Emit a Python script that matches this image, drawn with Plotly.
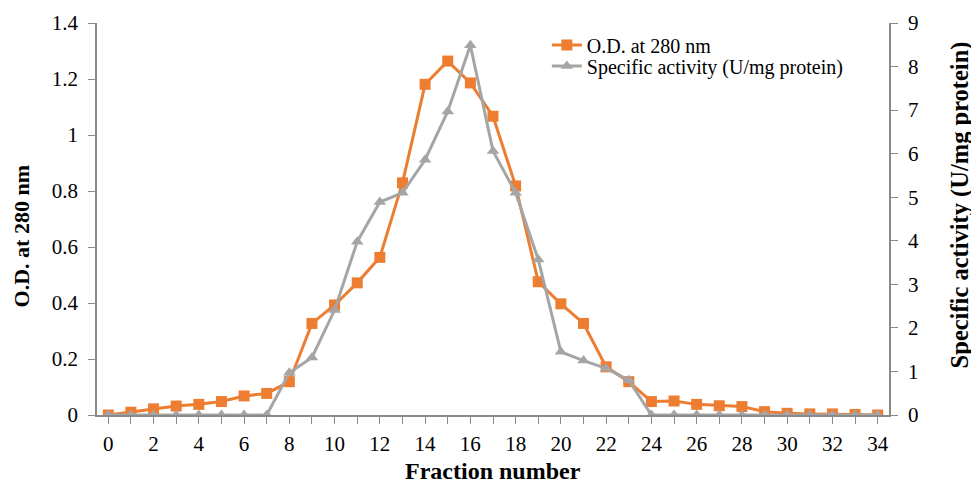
import plotly.graph_objects as go

fractions = list(range(35))
od280 = [0.0, 0.01, 0.022, 0.032, 0.038, 0.048, 0.068, 0.077, 0.119, 0.327,
         0.393, 0.472, 0.563, 0.829, 1.181, 1.264, 1.186, 1.067, 0.818, 0.476,
         0.397, 0.327, 0.172, 0.119, 0.048, 0.05, 0.038, 0.033, 0.03, 0.012,
         0.006, 0.004, 0.004, 0.002, 0.0]
spec_act = [0, 0, 0, 0, 0, 0, 0, 0, 0.97, 1.32,
            2.41, 3.98, 4.89, 5.1, 5.86, 6.97, 8.49, 6.06, 5.1, 3.57,
            1.45, 1.25, 1.07, 0.8, 0, 0, 0, 0, 0, 0,
            0, 0, 0, 0, 0]
x_ticks = list(range(0, 35, 2))

FONT = "Liberation Serif, Times New Roman, serif"
AX = "#898989"
TICK_SIZE = 21

fig = go.Figure()
fig.add_trace(go.Scatter(x=fractions, y=od280, name="O.D. at 280 nm",
                         mode="lines+markers", legend="legend",
                         line=dict(color="#ED7D31", width=3),
                         marker=dict(symbol="square", size=11, color="#ED7D31")))
fig.add_trace(go.Scatter(x=fractions, y=spec_act, name="Specific activity (U/mg protein)",
                         mode="lines+markers", yaxis="y2", legend="legend2",
                         line=dict(color="#A5A5A5", width=3),
                         marker=dict(symbol="triangle-up", size=11, color="#A5A5A5")))

leg_common = dict(xanchor="left", yanchor="middle",
                  font=dict(family=FONT, size=20, color="black"),
                  bgcolor="rgba(0,0,0,0)")

fig.update_layout(
    width=971, height=476,
    margin=dict(l=89, r=90, t=15, b=69),
    plot_bgcolor="white", paper_bgcolor="white",
    font=dict(family=FONT, size=20, color="black"),
    showlegend=True,
    legend=dict(x=0.568, y=0.944, **leg_common),
    legend2=dict(x=0.568, y=0.89, **leg_common),
    xaxis=dict(range=[-0.5, 34.5], tickvals=x_ticks, ticktext=[str(v) for v in x_ticks],
               automargin=False,
               showgrid=False, zeroline=False, showline=True, linecolor=AX, linewidth=1.5,
               ticks="outside", ticklen=7, tickcolor=AX, ticklabelstandoff=2,
               minor=dict(dtick=1, tick0=0, ticks="outside", ticklen=7, tickcolor=AX, showgrid=False),
               tickfont=dict(family=FONT, size=TICK_SIZE)),
    yaxis=dict(range=[0, 1.4], dtick=0.2, showgrid=False, zeroline=False, showline=True,
               automargin=False, ticklabelstandoff=6,
               linecolor=AX, linewidth=1.5, ticks="outside", ticklen=7, tickcolor=AX,
               tickfont=dict(family=FONT, size=TICK_SIZE)),
    yaxis2=dict(range=[0, 9], dtick=1, overlaying="y", side="right", showgrid=False,
                automargin=False, ticklabelstandoff=6,
                zeroline=False, showline=True, linecolor=AX, linewidth=1.5,
                ticks="outside", ticklen=7, tickcolor=AX,
                tickfont=dict(family=FONT, size=TICK_SIZE)),
    annotations=[
        dict(text="<b>Fraction number</b>", xref="paper", yref="paper",
             x=0.5, y=-0.143, xanchor="center", yanchor="middle", showarrow=False,
             font=dict(family=FONT, size=24)),
        dict(text="<b>O.D. at 280 nm</b>", xref="paper", yref="paper",
             x=-0.095, y=0.455, xanchor="center", yanchor="middle", showarrow=False,
             textangle=-90, font=dict(family=FONT, size=22)),
        dict(text="<b>Specific activity (U/mg protein)</b>", xref="paper", yref="paper",
             x=1.089, y=0.536, xanchor="center", yanchor="middle", showarrow=False,
             textangle=-90, font=dict(family=FONT, size=24.5)),
    ],
)

fig.write_html("out.html")
